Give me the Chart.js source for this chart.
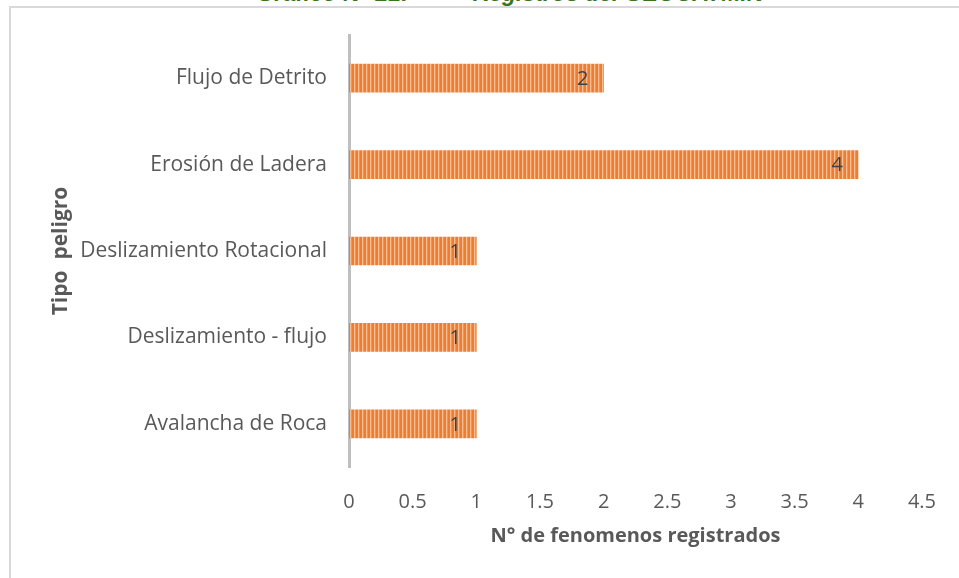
<!DOCTYPE html>
<html>
<head>
<meta charset="utf-8">
<script src="https://cdn.jsdelivr.net/npm/chart.js@4/dist/chart.umd.min.js"></script>
<style>
  html, body { margin: 0; padding: 0; background: #fff; }
  #wrap { position: relative; width: 959px; height: 578px; overflow: hidden; }
  #frame { position: absolute; left: 9px; top: 6px; width: 960px; height: 600px;
           border-top: 2px solid #d9d9d9; border-left: 2px solid #d9d9d9; box-sizing: border-box; }
  #heading { position: absolute; left: 0; width: 1020px; top: -20px; line-height: 24px;
             text-align: center; font: italic bold 23px "Liberation Sans", Arial, sans-serif;
             color: #38761d; white-space: pre; }
  canvas { position: absolute; left: 0; top: 0; }
</style>
</head>
<body>
<div id="wrap">
  <div id="heading">Gráfico N° 21:          Registros del GEOCATMIN</div>
  <div id="frame"></div>
  <canvas id="c" width="959" height="578"></canvas>
</div>
<script>
// Hazard types and number of recorded events
const categories = ['Flujo de Detrito', 'Erosión de Ladera', 'Deslizamiento Rotacional', 'Deslizamiento - flujo', 'Avalancha de Roca'];
const registros = [2, 4, 1, 1, 1];
const xTicks = [0, 0.5, 1, 1.5, 2, 2.5, 3, 3.5, 4, 4.5];

// vertical-stripe orange fill
function stripePattern() {
  const p = document.createElement('canvas');
  p.width = 4; p.height = 4;
  const g = p.getContext('2d');
  g.fillStyle = '#ED7D31'; g.fillRect(0, 0, 4, 4);
  g.fillStyle = '#F7BE96'; g.fillRect(2, 0, 1, 4);
  g.fillStyle = '#F09456'; g.fillRect(3, 0, 1, 4);
  return g.createPattern(p, 'repeat');
}

const fontFam = '"Open Sans", sans-serif';

// value label just inside the end of each bar
const valueLabels = {
  id: 'valueLabels',
  afterDatasetsDraw(chart) {
    const ctx = chart.ctx;
    const meta = chart.getDatasetMeta(0);
    ctx.save();
    ctx.font = '20px ' + fontFam;
    ctx.fillStyle = '#404040';
    ctx.textAlign = 'center';
    ctx.textBaseline = 'middle';
    meta.data.forEach((bar, i) => {
      ctx.fillText(String(registros[i]), bar.x - 21, bar.y + 1);
    });
    ctx.restore();
  }
};

new Chart(document.getElementById('c'), {
  type: 'bar',
  data: {
    labels: categories,
    datasets: [{
      data: registros,
      backgroundColor: stripePattern(),
      borderWidth: 0,
      barThickness: 28
    }]
  },
  options: {
    indexAxis: 'y',
    responsive: false,
    animation: false,
    layout: { padding: { left: 0, top: 35, right: 31, bottom: 30 } },
    plugins: { legend: { display: false }, tooltip: { enabled: false } },
    scales: {
      x: {
        min: 0, max: 4.5,
        afterBuildTicks(scale) { scale.ticks = xTicks.map(v => ({ value: v })); },
        afterFit(scale) { scale.height = 81; },
        grid: { display: false, drawTicks: false },
        border: { display: false },
        ticks: { color: '#595959', font: { family: fontFam, size: 20 }, padding: 23,
                 callback: v => String(v) },
        title: { display: true, text: 'N° de fenomenos registrados', color: '#595959',
                 font: { family: fontFam, size: 20, weight: 'bold' }, padding: 0 }
      },
      y: {
        afterFit(scale) { scale.width = 349; },
        grid: { display: false, drawTicks: false },
        border: { display: true, color: '#bfbfbf', width: 3 },
        ticks: { color: '#595959', font: { family: fontFam, size: 21 }, padding: 22 },
        title: { display: true, text: 'Tipo  peligro', color: '#595959',
                 font: { family: fontFam, size: 21, weight: 'bold' }, padding: { top: 48 } }
      }
    }
  },
  plugins: [valueLabels]
});
</script>
</body>
</html>
